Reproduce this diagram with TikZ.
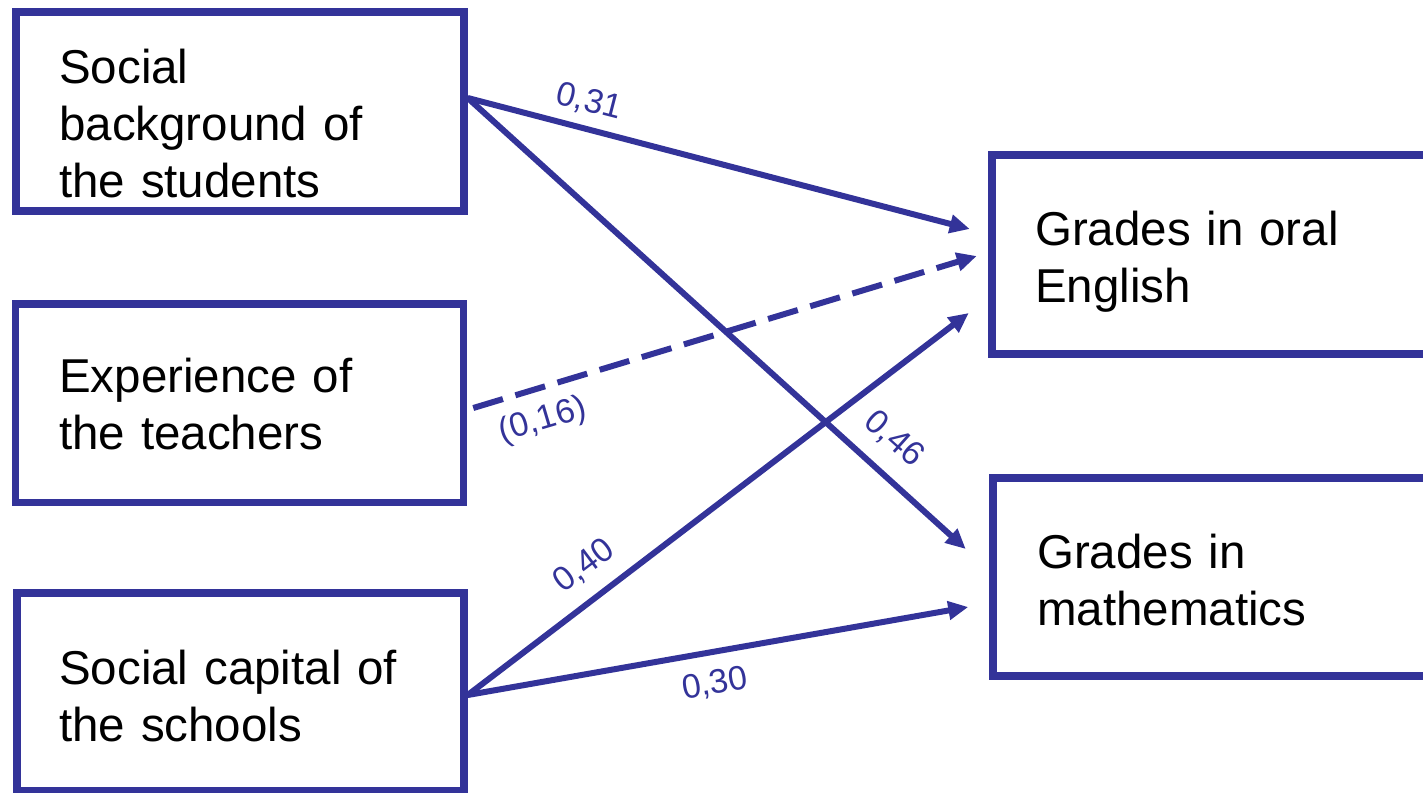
\documentclass[tikz,border=0pt]{standalone}
\usepackage{fontspec}
\setmainfont{Liberation Sans}
\usetikzlibrary{arrows.meta}
\definecolor{pathblue}{RGB}{51,51,153}
\tikzset{
  box/.style={draw=pathblue, line width=7.5pt, inner sep=0pt, fill=white},
  boxtext/.style={anchor=base west, inner sep=0pt, align=left, text width=420pt,
    font=\fontsize{47.5}{57}\selectfont, text=black},
  conn/.style={draw=pathblue, line width=6pt, -{Triangle[length=20pt,width=18pt]}},
  dashconn/.style={conn, dash pattern=on 31pt off 13pt},
  coef/.style={text=pathblue, inner sep=0pt, font=\fontsize{34}{40}\selectfont}
}
\begin{document}
\begin{tikzpicture}[x=1pt,y=-1pt]
\useasboundingbox (0,0) rectangle (1423,792);
\clip (0,0) rectangle (1423,792);
% boxes
\node[box, minimum width=448pt, minimum height=199pt] (b1) at (240,111.5) {};
\node[box, minimum width=448pt, minimum height=198.5pt] (b2) at (239.5,403.25) {};
\node[box, minimum width=447pt, minimum height=198pt] (b3) at (240.5,692) {};
\node[box, minimum width=460pt, minimum height=199pt] (b4) at (1222,254.5) {};
\node[box, minimum width=460pt, minimum height=198pt] (b5) at (1223,577) {};
% texts
\node[boxtext] (t1) at (59,83) {Social\\background of\\the students};
\node[boxtext] (t2) at (59,392) {Experience of\\the teachers};
\node[boxtext] (t3) at (59,684) {Social capital of\\the schools};
\node[boxtext] (t4) at (1035,245) {Grades in oral\\English};
\node[boxtext] (t5) at (1037,568) {Grades in\\mathematics};
% connectors
\draw[conn] ([yshift=13.5pt]b1.east) -- ([xshift=-18.5pt,yshift=25.5pt]b4.west);
\draw[conn] ([yshift=13.5pt]b1.east) -- ([xshift=-23.5pt,yshift=28pt]b5.west);
\draw[dashconn] ([xshift=6pt,yshift=-4.75pt]b2.east) -- ([xshift=-11.5pt,yshift=-1.5pt]b4.west);
\draw[conn] ([yshift=-3pt]b3.east) -- ([xshift=-19.5pt,yshift=-58.5pt]b4.west);
\draw[conn] ([yshift=-3pt]b3.east) -- ([xshift=-21pt,yshift=-30pt]b5.west);
% coefficients
\node[coef, rotate=-14.4] (c1) at (589,102) {0,31};
\node[coef, rotate=16.6] (c2) at (543,421) {(0,16)};
\node[coef, rotate=-41.8] (c3) at (894,439) {0,46};
\node[coef, rotate=36.9] (c4) at (584,566) {0,40};
\node[coef, rotate=9.8] (c5) at (715,684) {0,30};
\end{tikzpicture}
\end{document}
